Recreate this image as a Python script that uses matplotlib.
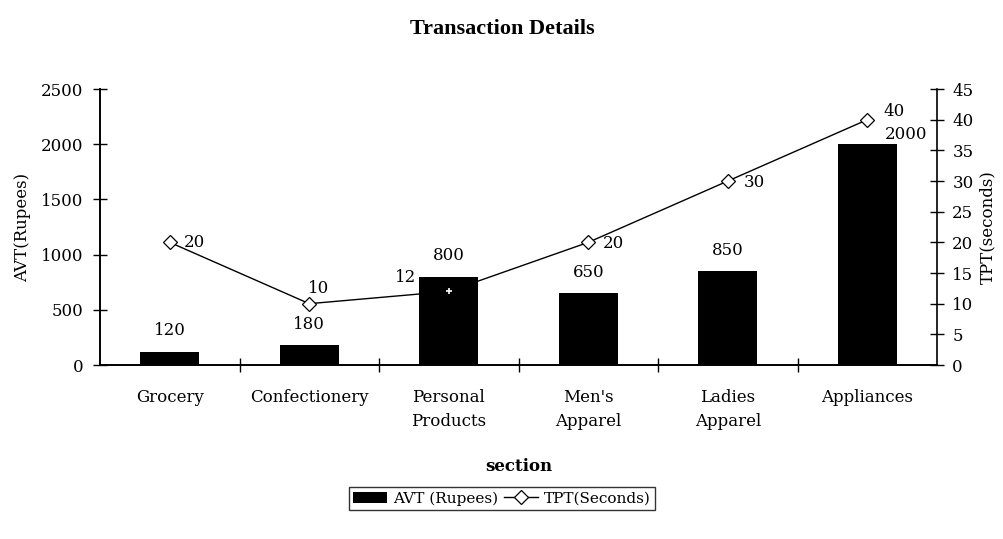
import matplotlib.pyplot as plt
import numpy as np

plt.rcParams['font.family'] = ['DejaVu Serif', 'Liberation Serif']

# --- data ---
sections = ['Grocery', 'Confectionery', 'Personal\nProducts', "Men's\nApparel",
            'Ladies\nApparel', 'Appliances']
avt = [120, 180, 800, 650, 850, 2000]
tpt = [20, 10, 12, 20, 30, 40]

# label offsets (points) as placed in the original chart
avt_offsets = [(0, 15), (0, 15), (0, 15), (0, 15), (0, 15), (28, 7)]
tpt_offsets = [(18, 0), (7, 11), (-31, 10), (18, -1), (19, -1), (19, 6)]

fig = plt.figure(figsize=(10.04, 5.39), dpi=100)
ax1 = fig.add_axes([0.0996, 0.3228, 0.8337, 0.512])
ax2 = ax1.twinx()

x = np.arange(len(sections))

# line goes under the bars
ax1.set_zorder(ax2.get_zorder() + 1)
ax1.patch.set_visible(False)

bars = ax1.bar(x, avt, width=0.42, color='black', label='AVT (Rupees)')
ln, = ax2.plot(x, tpt, color='black', lw=1, marker='D', markersize=7,
               markerfacecolor='white', markeredgecolor='black',
               markeredgewidth=0.9, label='TPT(Seconds)')
# the hidden marker shows through the Personal Products bar as a white speck
ax1.plot(x[2], tpt[2], transform=ax2.transData, marker='+', color='white',
         markersize=5, markeredgewidth=1.2, zorder=5)

for xi, v, off in zip(x, avt, avt_offsets):
    ax1.annotate(str(v), (xi, v), xytext=off, textcoords='offset points',
                 ha='center', va='center', fontsize=12)
for xi, v, off in zip(x, tpt, tpt_offsets):
    ax2.annotate(str(v), (xi, v), xytext=off, textcoords='offset points',
                 ha='center', va='center', fontsize=12)

ax1.set_xlim(-0.5, len(sections) - 0.5)
ax1.set_ylim(0, 2500)
ax2.set_ylim(0, 45)
ax1.set_yticks(np.arange(0, 2501, 500))
ax2.set_yticks(np.arange(0, 46, 5))

ax1.set_xticks(x)
ax1.set_xticklabels(sections, fontsize=12, linespacing=1.6, va='top')
ax1.set_xticks(np.arange(0.5, len(sections) - 0.5, 1), minor=True)
ax1.tick_params(axis='x', which='major', length=0, pad=17)
ax1.tick_params(axis='x', which='minor', direction='inout', length=10, width=1)
ax1.tick_params(axis='y', direction='inout', length=10, width=1, labelsize=12, pad=7)
ax2.tick_params(axis='y', direction='inout', length=10, width=1, labelsize=12, pad=6)

for a in (ax1, ax2):
    a.spines['top'].set_visible(False)
    for s in ('left', 'right', 'bottom'):
        a.spines[s].set_linewidth(1.2)
ax1.spines['right'].set_visible(False)

ax1.set_ylabel('AVT(Rupees)', fontsize=12, labelpad=7)
ax2.set_ylabel('TPT(seconds)', fontsize=12, labelpad=4)
ax1.set_xlabel('section', fontsize=12, fontweight='bold', labelpad=20)

fig.suptitle('Transaction Details', fontsize=16, fontweight='bold', y=0.965,
             family=['Liberation Serif'])

leg = fig.legend([bars, ln], ['AVT (Rupees)', 'TPT(Seconds)'], loc='center',
                 bbox_to_anchor=(0.5, 0.075), ncol=2, fontsize=11, frameon=True,
                 fancybox=False, edgecolor='black', handlelength=2.2,
                 columnspacing=0.4, handletextpad=0.4, borderpad=0.3)
leg.get_frame().set_linewidth(1.0)

fig.savefig('out.png', dpi=100)
